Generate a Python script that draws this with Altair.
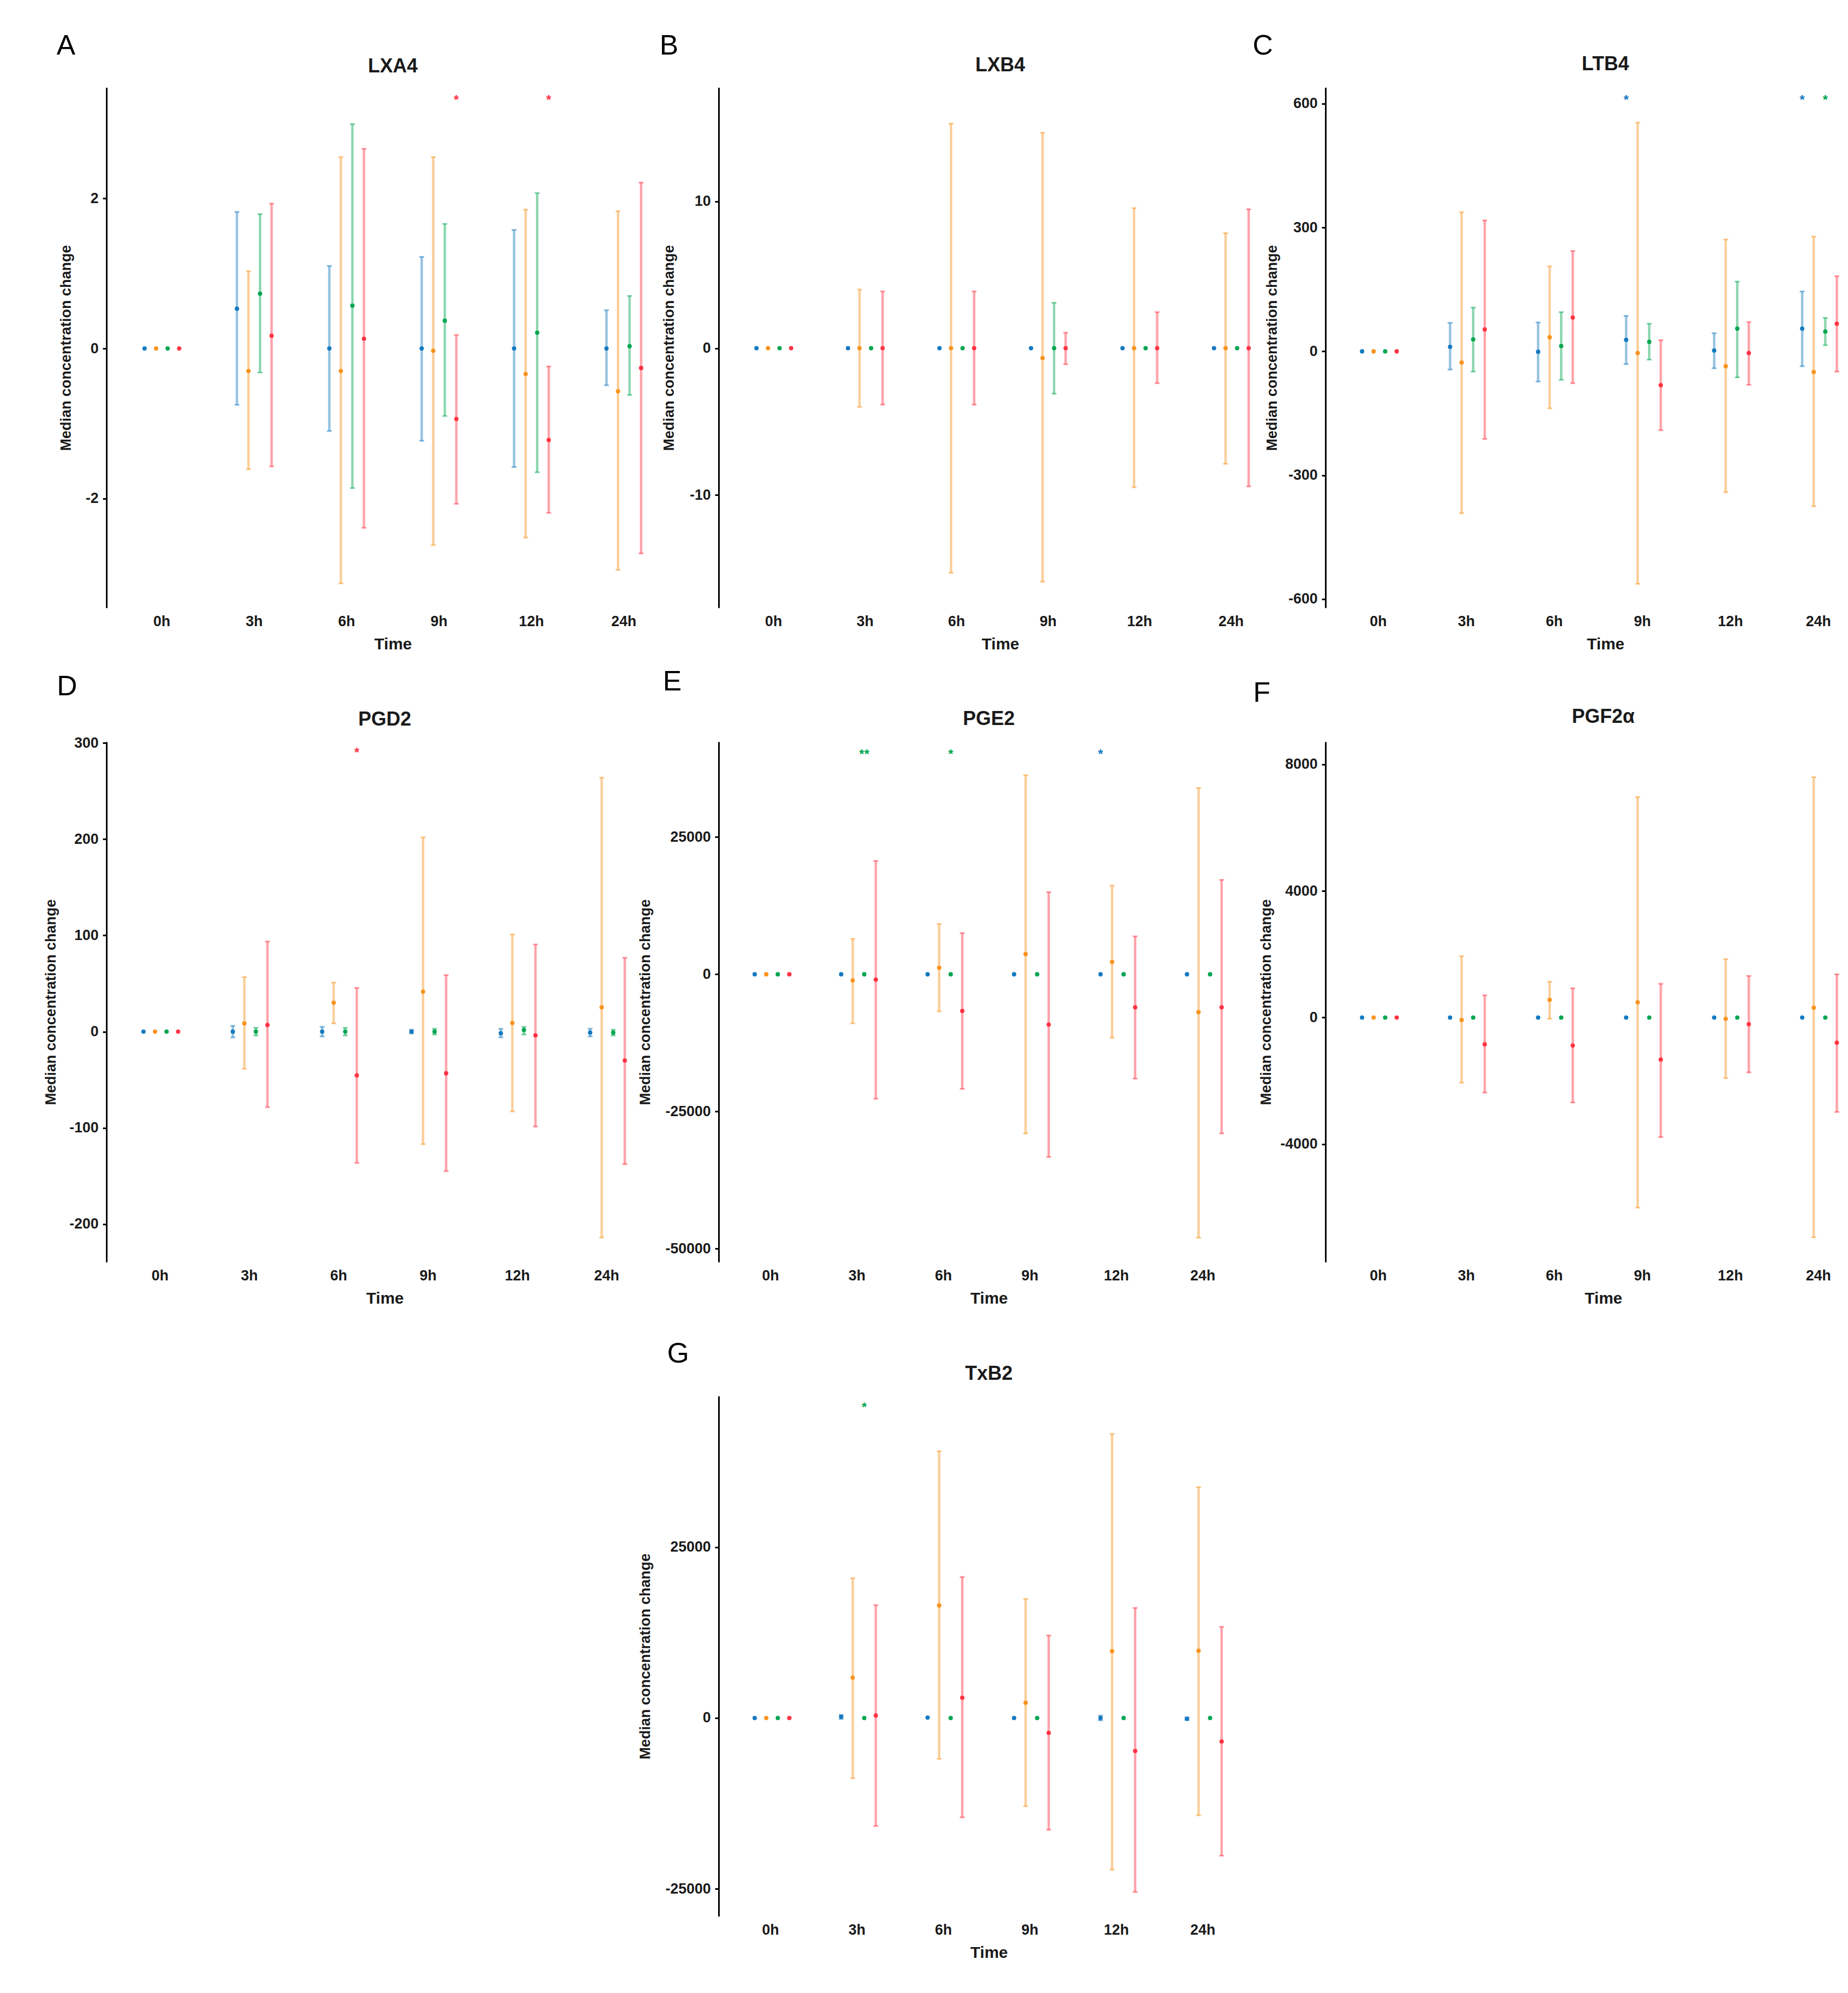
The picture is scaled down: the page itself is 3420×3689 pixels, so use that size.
import altair as alt
import pandas as pd

# ---------------- data ----------------
times = ["0h", "3h", "6h", "9h", "12h", "24h"]
groups = ["Group 1", "Group 2", "Group 3", "Group 4"]
colors = ["#1479BF", "#F7931E", "#00A650", "#FF3344"]
N = None

# LXA4
lxa4_med = [[0, 0.53, 0, 0, 0, 0], [0, -0.30, -0.30, -0.03, -0.34, -0.57],
            [0, 0.73, 0.57, 0.37, 0.21, 0.03], [0, 0.17, 0.13, -0.94, -1.22, -0.26]]
lxa4_lo = [[N, -0.75, -1.10, -1.23, -1.58, -0.49], [N, -1.61, -3.13, -2.62, -2.52, -2.95],
           [N, -0.32, -1.86, -0.90, -1.65, -0.62], [N, -1.57, -2.39, -2.07, -2.19, -2.73]]
lxa4_hi = [[N, 1.82, 1.10, 1.22, 1.58, 0.51], [N, 1.03, 2.55, 2.55, 1.85, 1.83],
           [N, 1.79, 2.99, 1.66, 2.07, 0.70], [N, 1.93, 2.66, 0.18, -0.24, 2.21]]
lxa4_stars = [("9h", "Group 4", "*"), ("12h", "Group 4", "*")]

# LXB4
lxb4_med = [[0, 0, 0, 0, 0, 0], [0, 0, 0, -0.67, 0, 0], [0, 0, 0, 0, 0, 0], [0, 0, 0, 0, 0, 0]]
lxb4_lo = [[N, N, N, N, N, N], [N, -4.0, -15.3, -15.9, -9.47, -7.87],
           [N, N, N, -3.1, N, N], [N, -3.84, -3.84, -1.09, -2.38, -9.41]]
lxb4_hi = [[N, N, N, N, N, N], [N, 4.0, 15.3, 14.68, 9.55, 7.84],
           [N, N, N, 3.1, N, N], [N, 3.87, 3.87, 1.06, 2.46, 9.47]]
lxb4_stars = []

# LTB4
ltb4_med = [[0, 11, -1, 28, 2, 55], [0, -27, 34, -4, -36, -50],
            [0, 29, 13, 23, 55, 48], [0, 53, 82, -82, -4, 67]]
ltb4_lo = [[N, -44, -73, -31, -41, -36], [N, -392, -138, -563, -341, -375],
           [N, -49, -69, -20, -63, 15], [N, -212, -77, -191, -81, -49]]
ltb4_hi = [[N, 69, 70, 86, 44, 145], [N, 337, 206, 554, 271, 278],
           [N, 106, 95, 67, 169, 81], [N, 317, 243, 27, 71, 182]]
ltb4_stars = [("9h", "Group 1", "*"), ("24h", "Group 1", "*"), ("24h", "Group 3", "*")]

# PGD2
pgd2_med = [[0, 0, 0, 0, -1.7, -1], [0, 8.6, 30, 41.6, 9, 25.3],
            [0, 0, 0, 0, 1.7, -1], [0, 6.9, -45.5, -43.3, -3.9, -30]]
pgd2_lo = [[N, -6, -5, -2, -6, -5], [N, -38.6, 8.6, -117, -83, -214],
           [N, -4, -4, -3, -3, -4], [N, -78.5, -136.5, -145, -98.7, -137.8]]
pgd2_hi = [[N, 6, 5, 2, 3, 3], [N, 56.7, 51, 202, 101, 264],
           [N, 4, 4, 3, 5, 2], [N, 93.6, 45.5, 58.8, 90.6, 76.8]]
pgd2_stars = [("6h", "Group 4", "*")]

# PGE2
pge2_med = [[0, 0, 0, 0, 0, 0], [0, -1127, 1202, 3682, 2254, -6913],
            [0, 0, 0, 0, 0, 0], [0, -977, -6688, -9167, -6011, -6011]]
pge2_lo = [[N, N, N, N, N, N], [N, -8942, -6763, -29004, -11572, -48014],
           [N, N, N, N, N, N], [N, -22692, -20889, -33287, -19010, -29004]]
pge2_hi = [[N, N, N, N, N, N], [N, 6462, 9167, 36293, 16155, 33963],
           [N, N, N, N, N, N], [N, 20664, 7514, 14953, 6913, 17207]]
pge2_stars = [("3h", "Group 3", "**"), ("6h", "Group 3", "*"), ("12h", "Group 1", "*")]

# PGF2a
pgf2a_med = [[0, 0, 0, 0, 0, 0], [0, -78, 560, 482, -39, 313],
             [0, 0, 0, 0, 0, 0], [0, -847, -886, -1329, -208, -795]]
pgf2a_lo = [[N, N, N, N, N, N], [N, -2059, -39, -6007, -1915, -6945],
            [N, N, N, N, N, N], [N, -2371, -2684, -3779, -1733, -2984]]
pgf2a_hi = [[N, N, N, N, N, N], [N, 1941, 1134, 6971, 1850, 7597],
            [N, N, N, N, N, N], [N, 704, 925, 1068, 1316, 1368]]
pgf2a_stars = []

# TxB2
txb2_med = [[0, 181, 60, 0, 0, -121], [0, 5910, 16465, 2231, 9770, 9830],
            [0, 0, 0, 0, 0, 0], [0, 362, 2955, -2171, -4825, -3438]]
txb2_lo = [[N, -150, N, N, -350, -300], [N, -8805, -5971, -12906, -22194, -14233],
           [N, N, N, N, N, N], [N, -15801, -14535, -16344, -25451, -20143]]
txb2_hi = [[N, 450, N, N, 350, 100], [N, 20445, 39021, 17430, 41554, 33774],
           [N, N, N, N, N, N], [N, 16525, 20626, 12062, 16103, 13329]]
txb2_stars = [("3h", "Group 3", "*")]

# panel settings: letter, title, data, y domain, y ticks, star level
panels = [
    dict(letter="A", title="LXA4", med=lxa4_med, lo=lxa4_lo, hi=lxa4_hi, stars=lxa4_stars,
         domain=[-3.455, 3.477], ticks=[-2, 0, 2], star_y=3.35, width=1060,
         po=0.35, align=0.5, cx=530, title_x=-75, letter_xy=(-75, -77), title_y=-39),
    dict(letter="B", title="LXB4", med=lxb4_med, lo=lxb4_lo, hi=lxb4_hi, stars=lxb4_stars,
         domain=[-17.68, 17.76], ticks=[-10, 0, 10], star_y=16, width=1050,
         po=0.35, align=0.5, cx=521, title_x=-92, letter_xy=(-92, -77), title_y=-41),
    dict(letter="C", title="LTB4", med=ltb4_med, lo=ltb4_lo, hi=ltb4_hi, stars=ltb4_stars,
         domain=[-621, 639], ticks=[-600, -300, 0, 300, 600], star_y=615, width=953,
         po=0.175, align=1, cx=518, title_x=-99, letter_xy=(-116, -77), title_y=-43),
    dict(letter="D", title="PGD2", med=pgd2_med, lo=pgd2_lo, hi=pgd2_hi, stars=pgd2_stars,
         domain=[-239.5, 301.3], ticks=[-200, -100, 0, 100, 200, 300], star_y=293, width=1025,
         po=0.35, align=0.5, cx=515, title_x=-103, letter_xy=(-73, -102), title_y=-41),
    dict(letter="E", title="PGE2", med=pge2_med, lo=pge2_lo, hi=pge2_hi, stars=pge2_stars,
         domain=[-52448, 42380], ticks=[-50000, -25000, 0, 25000], star_y=40650, width=992,
         po=0.35, align=0.5, cx=500, title_x=-136, letter_xy=(-86, -111), title_y=-42),
    dict(letter="F", title="PGF2α", med=pgf2a_med, lo=pgf2a_lo, hi=pgf2a_hi, stars=pgf2a_stars,
         domain=[-7727, 8717], ticks=[-4000, 0, 4000, 8000], star_y=8000, width=953,
         po=0.175, align=1, cx=514, title_x=-110, letter_xy=(-118, -90), title_y=-46),
    dict(letter="G", title="TxB2", med=txb2_med, lo=txb2_lo, hi=txb2_hi, stars=txb2_stars,
         domain=[-29009, 47102], ticks=[-25000, 0, 25000], star_y=45836, width=992,
         po=0.35, align=0.5, cx=500, title_x=-136, letter_xy=(-75, -78), title_y=-41),
]

FONT = "Liberation Sans"
TXT = "#1a1a1a"
H = 963


def make_panel(p):
    rows = []
    for gi, g in enumerate(groups):
        for ti, t in enumerate(times):
            rows.append(dict(time=t, group=g, med=p["med"][gi][ti],
                             lo=p["lo"][gi][ti], hi=p["hi"][gi][ti]))
    df = pd.DataFrame(rows)
    sdf = pd.DataFrame([dict(time=t, group=g, label=l, sy=p["star_y"]) for t, g, l in p["stars"]]
                       or [dict(time="0h", group="Group 1", label="", sy=p["star_y"])])
    ldf = pd.DataFrame({"letter": [p["letter"]], "title": [p["title"]]})

    xenc = alt.X("time:N", sort=times,
                 scale=alt.Scale(domain=times, paddingInner=0.5, paddingOuter=p["po"],
                                 align=p["align"]),
                 axis=alt.Axis(title="Time", labelAngle=0, domain=False, ticks=False, tickSize=0,
                               labelPadding=12, labelFontSize=27, labelFontWeight="bold",
                               labelColor=TXT, labelFont=FONT, titleFont=FONT,
                               titleFontSize=30, titleFontWeight="bold", titleColor=TXT,
                               titlePadding=14, titleX=p["cx"]))
    xoff = alt.XOffset("group:N", sort=groups,
                       scale=alt.Scale(domain=groups, paddingInner=0, paddingOuter=0))
    col = alt.Color("group:N", scale=alt.Scale(domain=groups, range=colors), legend=None)
    ysc = alt.Scale(domain=p["domain"], nice=False, zero=False)
    yax = alt.Axis(title="Median concentration change", values=p["ticks"],
                   labelExpr="'' + datum.value", grid=False,
                   domainColor="black", domainWidth=3, tickColor="black", tickWidth=3,
                   tickSize=7, labelPadding=8, labelFontSize=27, labelFontWeight="bold",
                   labelColor=TXT, labelFont=FONT, titleFont=FONT, titleFontSize=27,
                   titleFontWeight="bold", titleColor=TXT, titleX=p["title_x"],
                   titleBaseline="middle")

    base = alt.Chart(df)
    bars = base.transform_filter("isValid(datum.lo)")
    rule = bars.mark_rule(strokeWidth=4.5, opacity=0.45).encode(
        x=xenc, xOffset=xoff, y=alt.Y("lo:Q", scale=ysc, axis=yax), y2="hi:Q", color=col)
    cap_lo = bars.mark_tick(size=9, thickness=3, opacity=0.5).encode(
        x=xenc, xOffset=xoff, y=alt.Y("lo:Q", scale=ysc, axis=yax), color=col)
    cap_hi = bars.mark_tick(size=9, thickness=3, opacity=0.5).encode(
        x=xenc, xOffset=xoff, y=alt.Y("hi:Q", scale=ysc, axis=yax), color=col)
    pts = base.mark_circle(size=65, opacity=1).encode(
        x=xenc, xOffset=xoff, y=alt.Y("med:Q", scale=ysc, axis=yax), color=col)
    stars = alt.Chart(sdf).mark_text(fontSize=24, font=FONT, fontWeight="bold",
                                     baseline="middle", dy=6).encode(
        x=xenc, xOffset=xoff, y=alt.Y("sy:Q", scale=ysc, axis=yax), text="label:N", color=col)
    dx, dy = p["letter_xy"]
    letter = alt.Chart(ldf).mark_text(fontSize=52, font=FONT, color="black",
                                      align="center", baseline="middle").encode(
        text="letter:N", x=alt.value(dx), y=alt.value(dy))
    title = alt.Chart(ldf).mark_text(fontSize=36, font=FONT, fontWeight="bold", color=TXT,
                                     align="center", baseline="middle").encode(
        text="title:N", x=alt.value(p["cx"]), y=alt.value(p["title_y"]))

    return alt.layer(rule, cap_lo, cap_hi, pts, stars, letter, title).properties(
        width=p["width"], height=H)


charts = [make_panel(p) for p in panels]

spacer = alt.Chart(pd.DataFrame({"v": [0]})).mark_point(
    size=0, opacity=0, strokeOpacity=0, fillOpacity=0).encode(
    x=alt.X("v:Q", axis=None), y=alt.Y("v:Q", axis=None)).properties(width=10, height=10)

grid = alt.concat(charts[0], charts[1], charts[2], charts[3], charts[4], charts[5],
                  spacer, charts[6], columns=3,
                  spacing={"row": 248, "column": 73}, bounds="flush")

chart = grid.properties(
    padding={"left": 72, "top": 51, "right": 0, "bottom": 10}
).configure(font=FONT).configure_view(strokeWidth=0, stroke="transparent")

chart.save("out.html", embed_options={"renderer": "svg", "actions": False})
